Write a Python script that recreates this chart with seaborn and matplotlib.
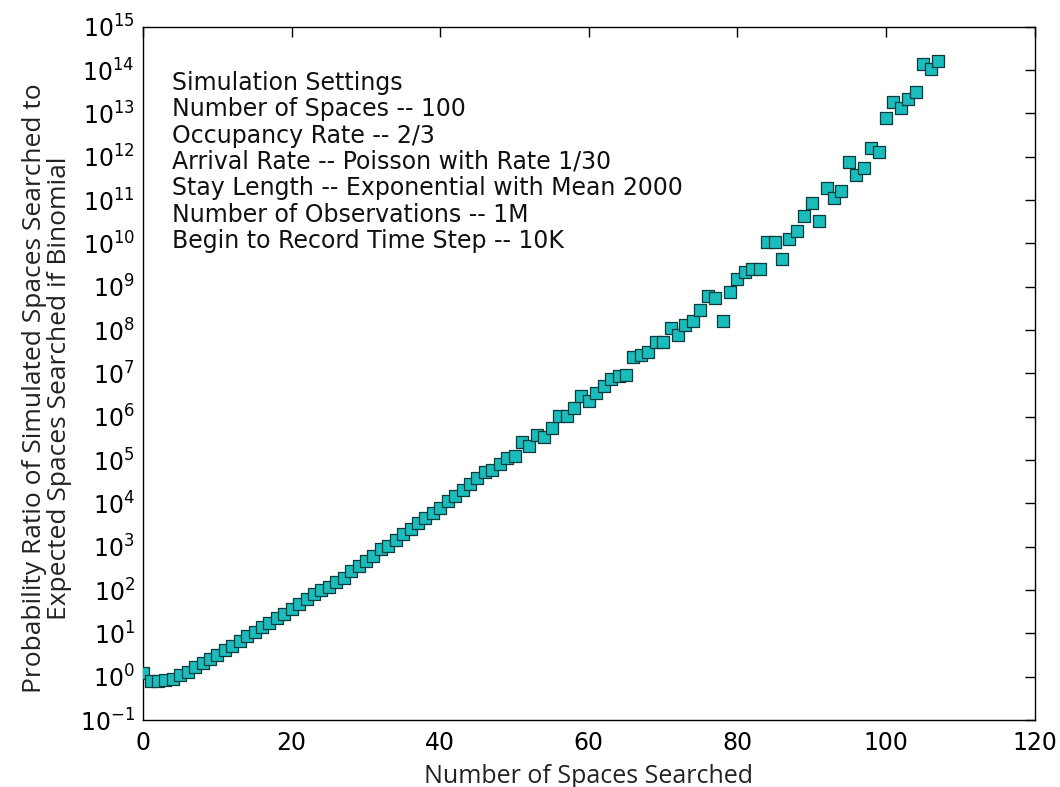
import matplotlib
matplotlib.use("Agg")
import matplotlib.pyplot as plt
import matplotlib.ticker as mticker
import seaborn as sns
import pandas as pd

# Number of spaces searched (x) and probability ratio (y)
spaces_searched = list(range(0, 108))
probability_ratio = [
    1.20, 0.78, 0.78, 0.83, 0.91, 1.07, 1.32, 1.66, 2.09, 2.63,
    3.24, 4.17, 5.25, 6.76, 8.51, 10.7, 13.8, 17.4, 22.4, 28.2,
    36.3, 47.9, 63.1, 79.4, 100, 120, 155, 195, 282, 355,
    468, 603, 891, 1.05e3, 1.41e3, 1.95e3, 2.63e3, 3.55e3, 4.68e3, 6.03e3,
    7.94e3, 1.12e4, 1.51e4, 2.04e4, 2.82e4, 3.89e4, 5.25e4, 6.03e4, 8.32e4, 1.12e5,
    1.23e5, 2.63e5, 2.14e5, 3.89e5, 3.39e5, 5.50e5, 1.02e6, 1.02e6, 1.62e6, 3.02e6,
    2.29e6, 3.63e6, 5.25e6, 7.59e6, 8.51e6, 9.12e6, 2.40e7, 2.63e7, 3.09e7, 5.25e7,
    5.25e7, 1.12e8, 7.59e7, 1.29e8, 1.58e8, 2.95e8, 6.03e8, 5.50e8, 1.58e8, 7.41e8,
    1.48e9, 2.24e9, 2.57e9, 2.57e9, 1.10e10, 1.10e10, 4.37e9, 1.29e10, 1.91e10, 4.37e10,
    8.71e10, 3.24e10, 1.86e11, 1.12e11, 1.62e11, 7.59e11, 3.80e11, 5.62e11, 1.62e12, 1.29e12,
    7.94e12, 1.86e13, 1.35e13, 2.19e13, 3.16e13, 1.41e14, 1.07e14, 1.62e14,
]

x_ticks = [0, 20, 40, 60, 80, 100, 120]
y_exponents = list(range(-1, 16))

settings_lines = [
    "Simulation Settings",
    "Number of Spaces -- 100",
    "Occupancy Rate -- 2/3",
    "Arrival Rate -- Poisson with Rate 1/30",
    "Stay Length -- Exponential with Mean 2000",
    "Number of Observations -- 1M",
    "Begin to Record Time Step -- 10K",
]

df = pd.DataFrame({"spaces": spaces_searched, "ratio": probability_ratio})

sns.set_style("white")
plt.rcParams["font.family"] = ["DejaVu Sans"]
plt.rcParams["mathtext.fontset"] = "dejavusans"

fig = plt.figure(figsize=(10.6, 7.87), dpi=100)
ax = fig.add_axes([0.135, 0.085, 0.841, 0.881])

sns.scatterplot(data=df, x="spaces", y="ratio", ax=ax, marker="s", s=68,
                color="#1abcbc", edgecolor="#0d3b3b", linewidth=0.9, zorder=3)

ax.set_yscale("log")
ax.set_xlim(0, 120)
ax.set_ylim(1e-1, 1e15)
ax.set_xticks(x_ticks)
ax.set_xticklabels([str(t) for t in x_ticks])
ax.set_yticks([10.0 ** e for e in y_exponents])
ax.set_yticklabels([r"$10^{%d}$" % e for e in y_exponents])
ax.yaxis.set_minor_locator(mticker.NullLocator())
ax.xaxis.set_minor_locator(mticker.NullLocator())

ax.tick_params(axis="both", which="major", direction="in", length=7, width=1,
               top=True, right=True, labelsize=17, colors="black")
ax.tick_params(axis="x", pad=8)
ax.tick_params(axis="y", pad=6)
for sp in ax.spines.values():
    sp.set_visible(True)
    sp.set_color("black")
    sp.set_linewidth(1.0)

ax.set_xlabel("Number of Spaces Searched", fontsize=18, family="Open Sans",
              labelpad=6, color="#222222")
ax.set_ylabel("Probability Ratio of Simulated Spaces Searched to\nExpected Spaces Searched if Binomial",
              fontsize=19, family="Open Sans", linespacing=1.0, color="#222222")
ax.yaxis.set_label_coords(-0.08, 0.478)

ax.text(0.0325, 0.936, "\n".join(settings_lines), transform=ax.transAxes,
        fontsize=17, va="top", ha="left", linespacing=1.12, color="#111111")

fig.savefig("out.png", dpi=100)
